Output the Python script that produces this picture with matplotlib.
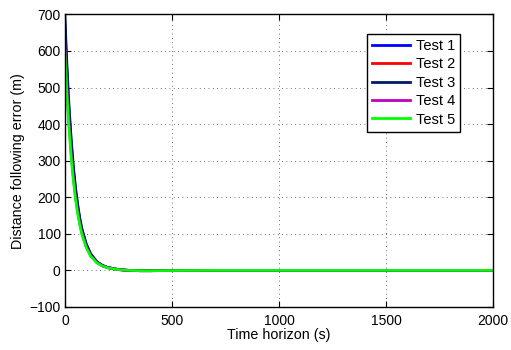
import matplotlib
matplotlib.use("Agg")
import matplotlib.pyplot as plt

plt.rcParams['font.family'] = ['Liberation Sans', 'DejaVu Sans']

t = [0, 5, 10, 15, 20, 30, 40, 50, 60, 70, 80, 100, 120, 150, 175, 200, 250, 300, 350, 400, 500, 700, 1000, 2000]
test1 = [680, 607, 541, 484, 432, 345, 274, 219, 174, 138, 110, 70, 44, 23, 13, 8, 2, 0, -1, -1, -0.5, 0, 0, 0]
test2 = [650, 581, 517, 463, 413, 329, 262, 209, 167, 132, 105, 67, 42, 22, 13, 7.5, 2, 0, -1, -1, -0.5, 0, 0, 0]
test3 = [700, 625, 557, 498, 444, 355, 283, 225, 180, 142, 113, 72, 46, 23, 14, 8, 2.5, 0, -1, -1, -0.5, 0, 0, 0]
test4 = [620, 554, 493, 441, 394, 314, 250, 199, 159, 126, 100, 64, 40, 21, 12, 7, 2, 0, -1, -1, -0.5, 0, 0, 0]
test5 = [600, 536, 477, 427, 381, 304, 242, 193, 154, 122, 97, 62, 39, 20, 12, 7, 2, 0, -1, -1, -0.5, 0, 0, 0]

labels = ['Test 1', 'Test 2', 'Test 3', 'Test 4', 'Test 5']
colors = ['#0000ff', '#ff0000', '#001a66', '#c000c0', '#00ff00']
series = [test1, test2, test3, test4, test5]

xticks = [0, 500, 1000, 1500, 2000]
yticks = [-100, 0, 100, 200, 300, 400, 500, 600, 700]

fig = plt.figure(figsize=(5.11, 3.5), dpi=100)
ax = fig.add_axes([0.127, 0.123, 0.838, 0.836])

for y, c, lab in zip(series, colors, labels):
    ax.plot(t, y, color=c, lw=1.9, label=lab)

ax.set_xlim(0, 2000)
ax.set_ylim(-100, 700)
ax.set_xticks(xticks)
ax.set_yticks(yticks)
ax.set_yticklabels([('\u2212' + str(-v)) if v < 0 else str(v) for v in yticks])
ax.tick_params(direction='in', top=True, right=True, labelsize=10, length=4, width=0.8)
ax.tick_params(axis='x', pad=5)
ax.tick_params(axis='y', pad=3)
ax.grid(True, linestyle=(0, (1, 4.2)), color='#444444', linewidth=0.6)
for s in ax.spines.values():
    s.set_linewidth(1.0)
    s.set_color('black')

ax.set_xlabel('Time horizon (s)', fontsize=10.3, labelpad=0)
ax.set_ylabel('Distance following error (m)', fontsize=10.3, labelpad=3)

leg = ax.legend(loc='upper right', bbox_to_anchor=(0.923, 0.933), fontsize=10.5,
                fancybox=False, edgecolor='black', framealpha=1,
                handlelength=2.6, labelspacing=0.3, borderpad=0.35, handletextpad=0.4,
                borderaxespad=0)
leg.get_frame().set_linewidth(1.0)
for line in leg.get_lines():
    line.set_linewidth(2)

fig.savefig('out.png', dpi=100)
